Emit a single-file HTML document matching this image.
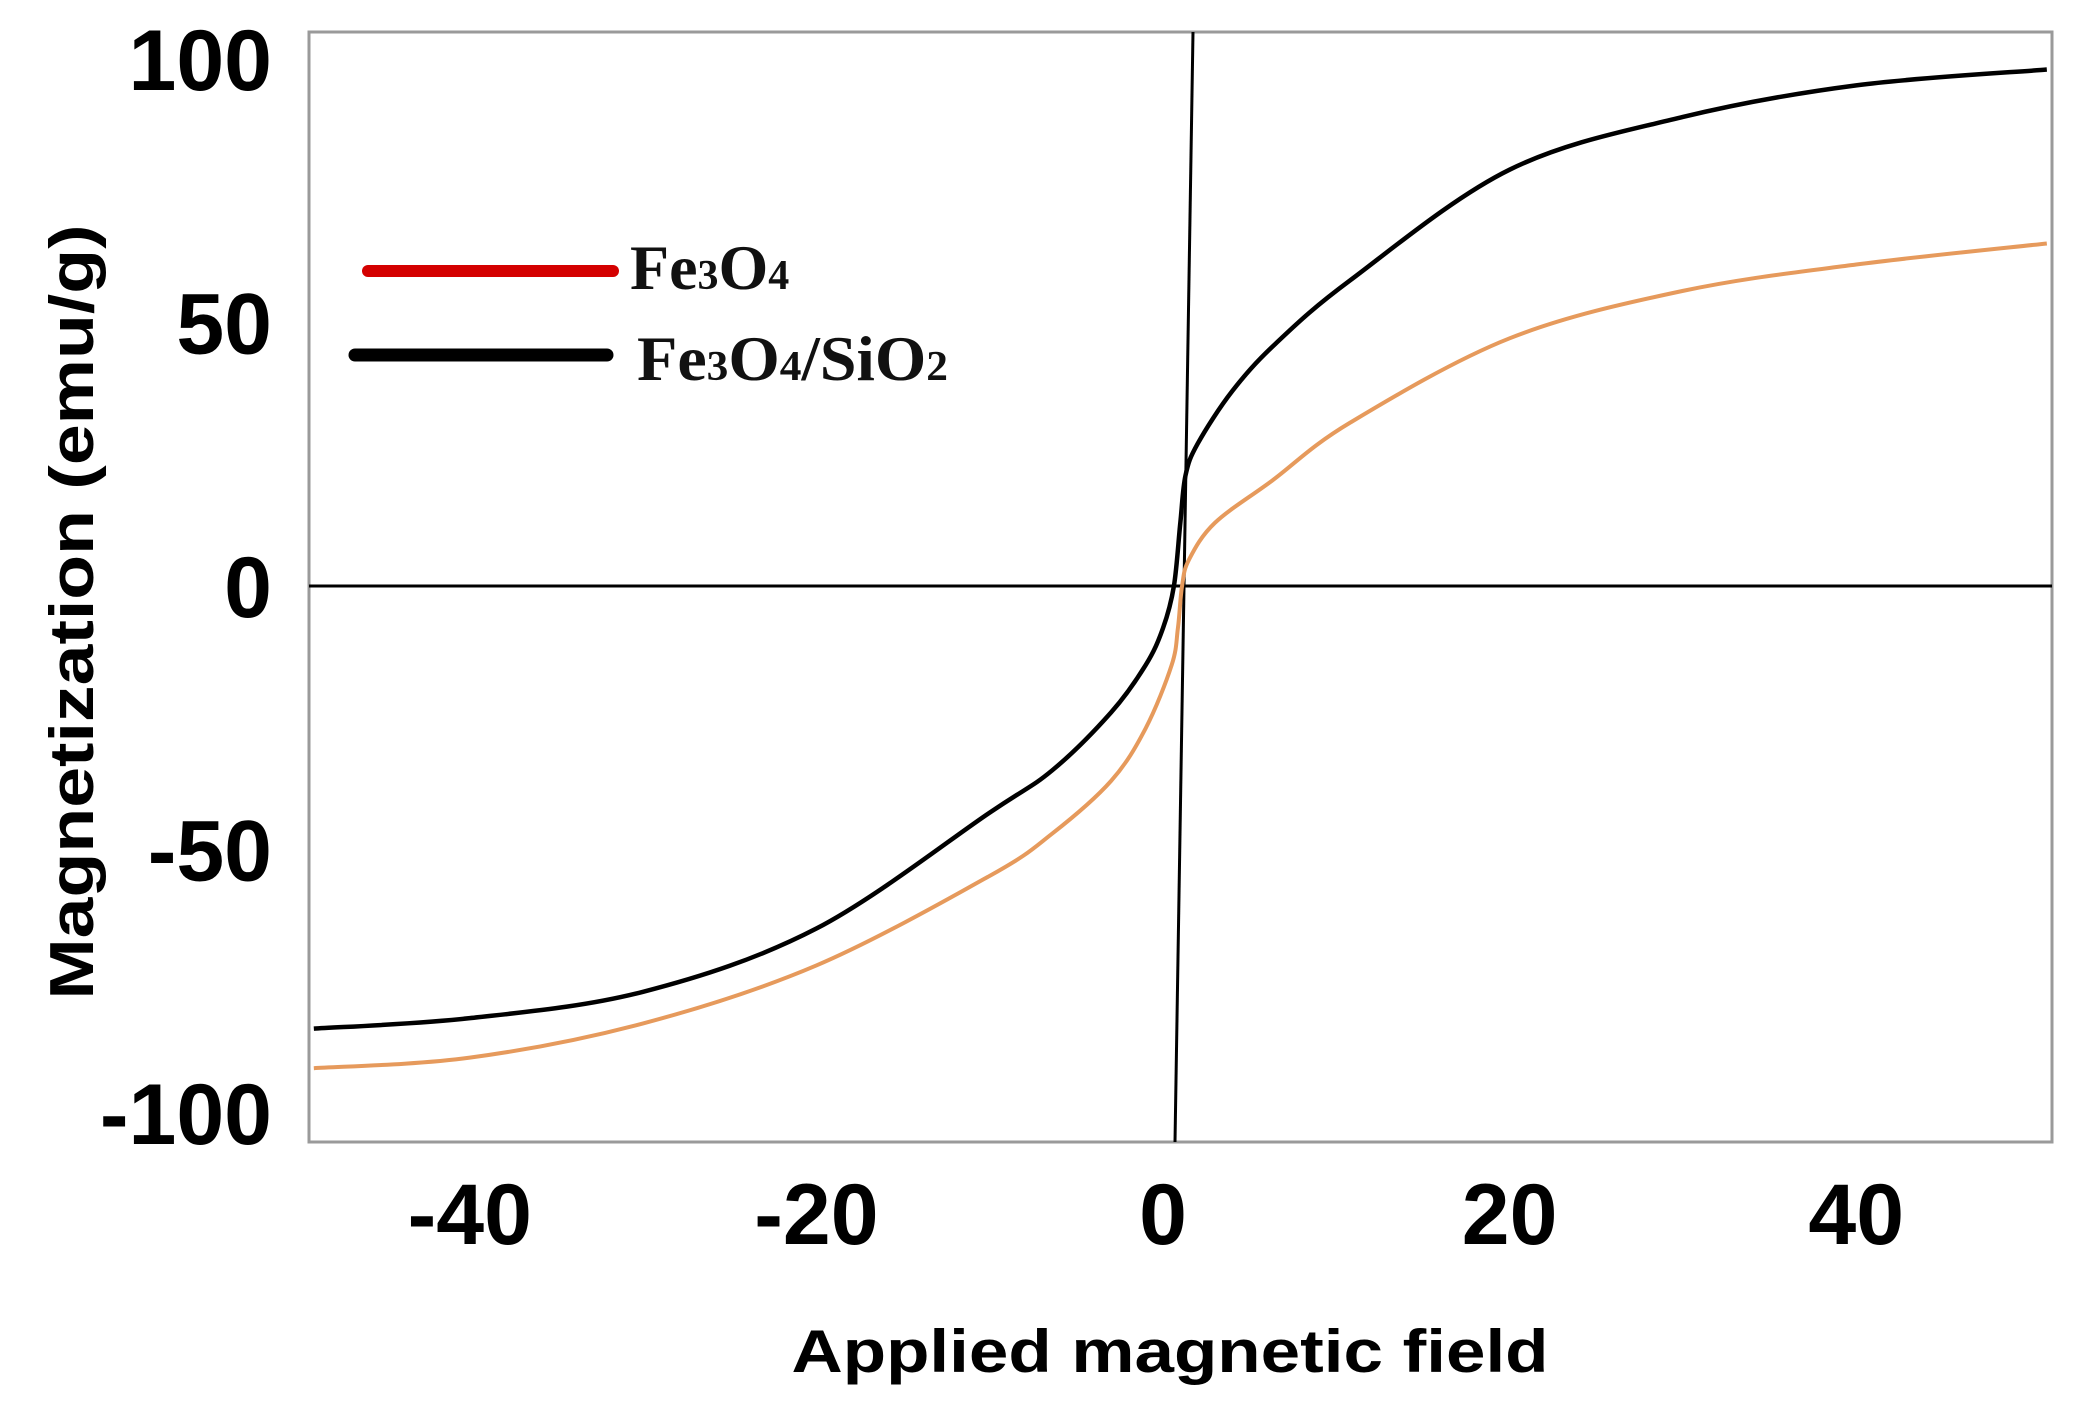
<!DOCTYPE html>
<html><head><meta charset="utf-8"><style>
html,body{margin:0;padding:0;background:#fff;}
svg{display:block;}
</style></head><body>
<svg id="chart" width="2079" height="1421" viewBox="0 0 2079 1421" xmlns="http://www.w3.org/2000/svg">
<rect x="0" y="0" width="2079" height="1421" fill="#fff"/>
<rect x="309" y="32" width="1743" height="1110" fill="none" stroke="#9a9a9a" stroke-width="3"/>
<g id="axes"></g>
<g id="series"></g>
<g>
<line x1="368" y1="271" x2="613" y2="271" stroke="#d40000" stroke-width="12" stroke-linecap="round"/>
<text x="630" y="289" font-family="Liberation Serif, serif" font-weight="bold" font-size="64" fill="#111">Fe<tspan font-size="42">3</tspan>O<tspan font-size="42">4</tspan></text>
<line x1="355" y1="355" x2="607" y2="355" stroke="#000" stroke-width="13" stroke-linecap="round"/>
<text x="637" y="380" font-family="Liberation Serif, serif" font-weight="bold" font-size="64" textLength="311" lengthAdjust="spacingAndGlyphs" fill="#111">Fe<tspan font-size="42">3</tspan>O<tspan font-size="42">4</tspan>/SiO<tspan font-size="42">2</tspan></text>
</g>
<text x="1170" y="1372" text-anchor="middle" font-family="Liberation Sans, sans-serif" font-weight="bold" font-size="60" textLength="757" lengthAdjust="spacingAndGlyphs" fill="#000">Applied magnetic field</text>
<text transform="translate(93,612) rotate(-90)" text-anchor="middle" font-family="Liberation Sans, sans-serif" font-weight="bold" font-size="62" textLength="775" lengthAdjust="spacingAndGlyphs" fill="#000">Magnetization (emu/g)</text>
</svg>
<script>
const xTicks = [-40, -20, 0, 20, 40];
const yTicks = [100, 50, 0, -50, -100];
const fieldBlack = [-49, -40, -30, -20, -10, -6.4, -3, -1, 0, 0.63, 1.0, 1.3, 2, 4, 6.5, 10.8, 20, 30, 40, 51];
const magBlack = [-84, -82, -77, -65, -43, -35, -24, -15, -8, 0, 12, 21, 27, 37, 46, 58, 79, 89, 95, 98];
const fieldOrange = [-49, -40, -30, -20, -10, -6.4, -3, -1, 0.5, 0.86, 1.1, 1.5, 3, 6.3, 10.8, 20, 30, 40, 51];
const magOrange = [-91.5, -89.5, -83, -72, -55, -47, -37, -27, -15, -8, 0, 5, 12, 20, 31, 47, 56, 61, 65];

const NS = 'http://www.w3.org/2000/svg';
function sx(h){ return 1163 + h * 17.33; }
function sy(m){ return 586 - m * 5.27; }
const axes = document.getElementById('axes');
const series = document.getElementById('series');

const zl = document.createElementNS(NS, 'line');
zl.setAttribute('x1', 309); zl.setAttribute('x2', 2052);
zl.setAttribute('y1', sy(0)); zl.setAttribute('y2', sy(0));
zl.setAttribute('stroke', '#000'); zl.setAttribute('stroke-width', '3');


axes.appendChild(zl);

const vl = document.createElementNS(NS, 'line');
vl.setAttribute('x1', 1193); vl.setAttribute('y1', 32);
vl.setAttribute('x2', 1175); vl.setAttribute('y2', 1142);
vl.setAttribute('stroke', '#000'); vl.setAttribute('stroke-width', '3');


axes.appendChild(vl);

xTicks.forEach(function(t){
  const tx = document.createElementNS(NS, 'text');
  tx.setAttribute('x', sx(t)); tx.setAttribute('y', 1244);
  tx.setAttribute('text-anchor', 'middle');
  tx.setAttribute('font-family', 'Liberation Sans, sans-serif');
  tx.setAttribute('font-weight', 'bold'); tx.setAttribute('font-size', '86');
  tx.textContent = String(t);
  
  
  axes.appendChild(tx);
});
yTicks.forEach(function(t){
  const ty = document.createElementNS(NS, 'text');
  ty.setAttribute('x', 272); ty.setAttribute('y', sy(t) + 31);
  ty.setAttribute('text-anchor', 'end');
  ty.setAttribute('font-family', 'Liberation Sans, sans-serif');
  ty.setAttribute('font-weight', 'bold'); ty.setAttribute('font-size', '86');
  ty.textContent = String(t);
  
  
  axes.appendChild(ty);
});

function path(xs, ys){
  const p = xs.map(function(h, i){ return [sx(h), sy(ys[i])]; });
  let d = 'M' + p[0][0] + ',' + p[0][1];
  for (let i = 0; i < p.length - 1; i++) {
    const p0 = p[i-1] || p[i], p1 = p[i], p2 = p[i+1], p3 = p[i+2] || p2;
    const c1x = p1[0] + (p2[0]-p0[0])/6, c1y = p1[1] + (p2[1]-p0[1])/6;
    const c2x = p2[0] - (p3[0]-p1[0])/6, c2y = p2[1] - (p3[1]-p1[1])/6;
    d += ' C' + c1x + ',' + c1y + ' ' + c2x + ',' + c2y + ' ' + p2[0] + ',' + p2[1];
  }
  return d;
}
const po = document.createElementNS(NS, 'path');
po.setAttribute('d', path(fieldOrange, magOrange));
po.setAttribute('fill', 'none'); po.setAttribute('stroke', '#e69a5c'); po.setAttribute('stroke-width', '4');
po.setAttribute('stroke-linejoin', 'round');


series.appendChild(po);

const pb = document.createElementNS(NS, 'path');
pb.setAttribute('d', path(fieldBlack, magBlack));
pb.setAttribute('fill', 'none'); pb.setAttribute('stroke', '#000'); pb.setAttribute('stroke-width', '4.5');
pb.setAttribute('stroke-linejoin', 'round');


series.appendChild(pb);
</script>
</body></html>
